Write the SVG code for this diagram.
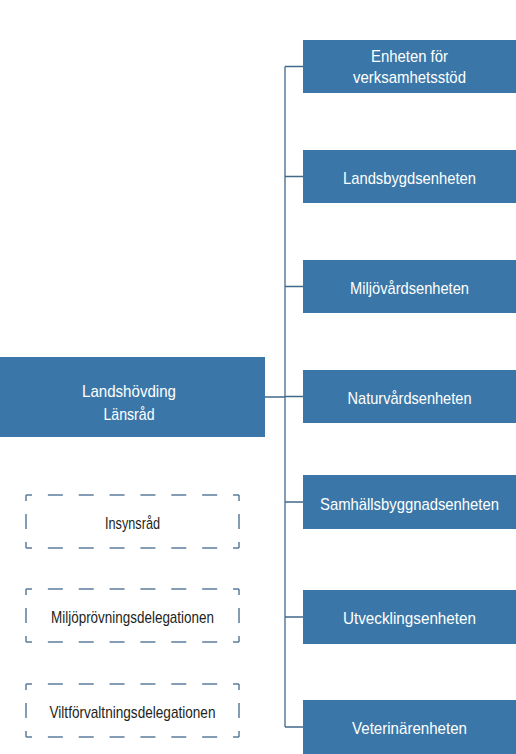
<svg xmlns="http://www.w3.org/2000/svg" width="516" height="754" viewBox="0 0 516 754">
<style>
.box{fill:#3a77a8}
.wt{fill:#ffffff;font-family:"Liberation Sans",Arial,sans-serif;font-size:17px;text-anchor:middle}
.dt{fill:#231f20;font-family:"Liberation Sans",Arial,sans-serif;font-size:17px;text-anchor:middle}
.conn{fill:none;stroke:#41698c;stroke-width:1.3}
.dh{stroke:#5c7e9c;stroke-width:1.5;fill:none;stroke-dasharray:6 15.86 15 15.86 15 15.86 15 15.86 15 15.86 15 15.86 15 15.86 6}
.dv{stroke:#5c7e9c;stroke-width:1.5;fill:none;stroke-dasharray:6 13 15 13 6}
</style>
<rect width="516" height="754" fill="#ffffff"/>
<g id="connectors">
<path class="conn" d="M285,66.5 V727 M285,66.5 H303 M285,176.5 H303 M285,286.5 H303 M285,396.5 H303 M285,502 H303 M285,617 H303 M285,727 H303 M265,397 H285"/>
</g>
<g id="landshovding">
<rect class="box" x="-10" y="357" width="275" height="80"/>
<text class="wt" x="129" y="397" textLength="94" lengthAdjust="spacingAndGlyphs">Landshövding</text>
<text class="wt" x="129" y="420" textLength="51" lengthAdjust="spacingAndGlyphs">Länsråd</text>
</g>
<g id="verksamhetsstod">
<rect class="box" x="303" y="40" width="213" height="53"/>
<text class="wt" x="409.5" y="62" textLength="77" lengthAdjust="spacingAndGlyphs">Enheten för</text>
<text class="wt" x="409.5" y="82.5" textLength="113" lengthAdjust="spacingAndGlyphs">verksamhetsstöd</text>
</g>
<g id="landsbygd">
<rect class="box" x="303" y="150" width="213" height="53"/>
<text class="wt" x="409.5" y="184" textLength="133" lengthAdjust="spacingAndGlyphs">Landsbygdsenheten</text>
</g>
<g id="miljovard">
<rect class="box" x="303" y="260" width="213" height="53"/>
<text class="wt" x="409.5" y="294" textLength="119" lengthAdjust="spacingAndGlyphs">Miljövårdsenheten</text>
</g>
<g id="naturvard">
<rect class="box" x="303" y="370" width="213" height="53"/>
<text class="wt" x="409.5" y="404" textLength="124" lengthAdjust="spacingAndGlyphs">Naturvårdsenheten</text>
</g>
<g id="samhallsbyggnad">
<rect class="box" x="303" y="475" width="213" height="54"/>
<text class="wt" x="409.5" y="510" font-size="16" textLength="179" lengthAdjust="spacingAndGlyphs">Samhällsbyggnadsenheten</text>
</g>
<g id="utveckling">
<rect class="box" x="303" y="590" width="213" height="54"/>
<text class="wt" x="409.5" y="624" textLength="133" lengthAdjust="spacingAndGlyphs">Utvecklingsenheten</text>
</g>
<g id="veterinar">
<rect class="box" x="303" y="700" width="213" height="54"/>
<text class="wt" x="409.5" y="734" textLength="115" lengthAdjust="spacingAndGlyphs">Veterinärenheten</text>
</g>
<g id="insynsrad">
<line class="dh" x1="26" y1="495" x2="239" y2="495"/>
<line class="dh" x1="26" y1="548" x2="239" y2="548"/>
<line class="dv" x1="26" y1="495" x2="26" y2="548"/>
<line class="dv" x1="239" y1="495" x2="239" y2="548"/>
<text class="dt" x="132.5" y="529" textLength="55" lengthAdjust="spacingAndGlyphs">Insynsråd</text>
</g>
<g id="miljoprovning">
<line class="dh" x1="26" y1="589" x2="239" y2="589"/>
<line class="dh" x1="26" y1="642" x2="239" y2="642"/>
<line class="dv" x1="26" y1="589" x2="26" y2="642"/>
<line class="dv" x1="239" y1="589" x2="239" y2="642"/>
<text class="dt" x="132.5" y="623" textLength="163" lengthAdjust="spacingAndGlyphs">Miljöprövningsdelegationen</text>
</g>
<g id="viltforvaltning">
<line class="dh" x1="26" y1="684" x2="239" y2="684"/>
<line class="dh" x1="26" y1="737" x2="239" y2="737"/>
<line class="dv" x1="26" y1="684" x2="26" y2="737"/>
<line class="dv" x1="239" y1="684" x2="239" y2="737"/>
<text class="dt" x="132.5" y="718" textLength="166" lengthAdjust="spacingAndGlyphs">Viltförvaltningsdelegationen</text>
</g>
</svg>
